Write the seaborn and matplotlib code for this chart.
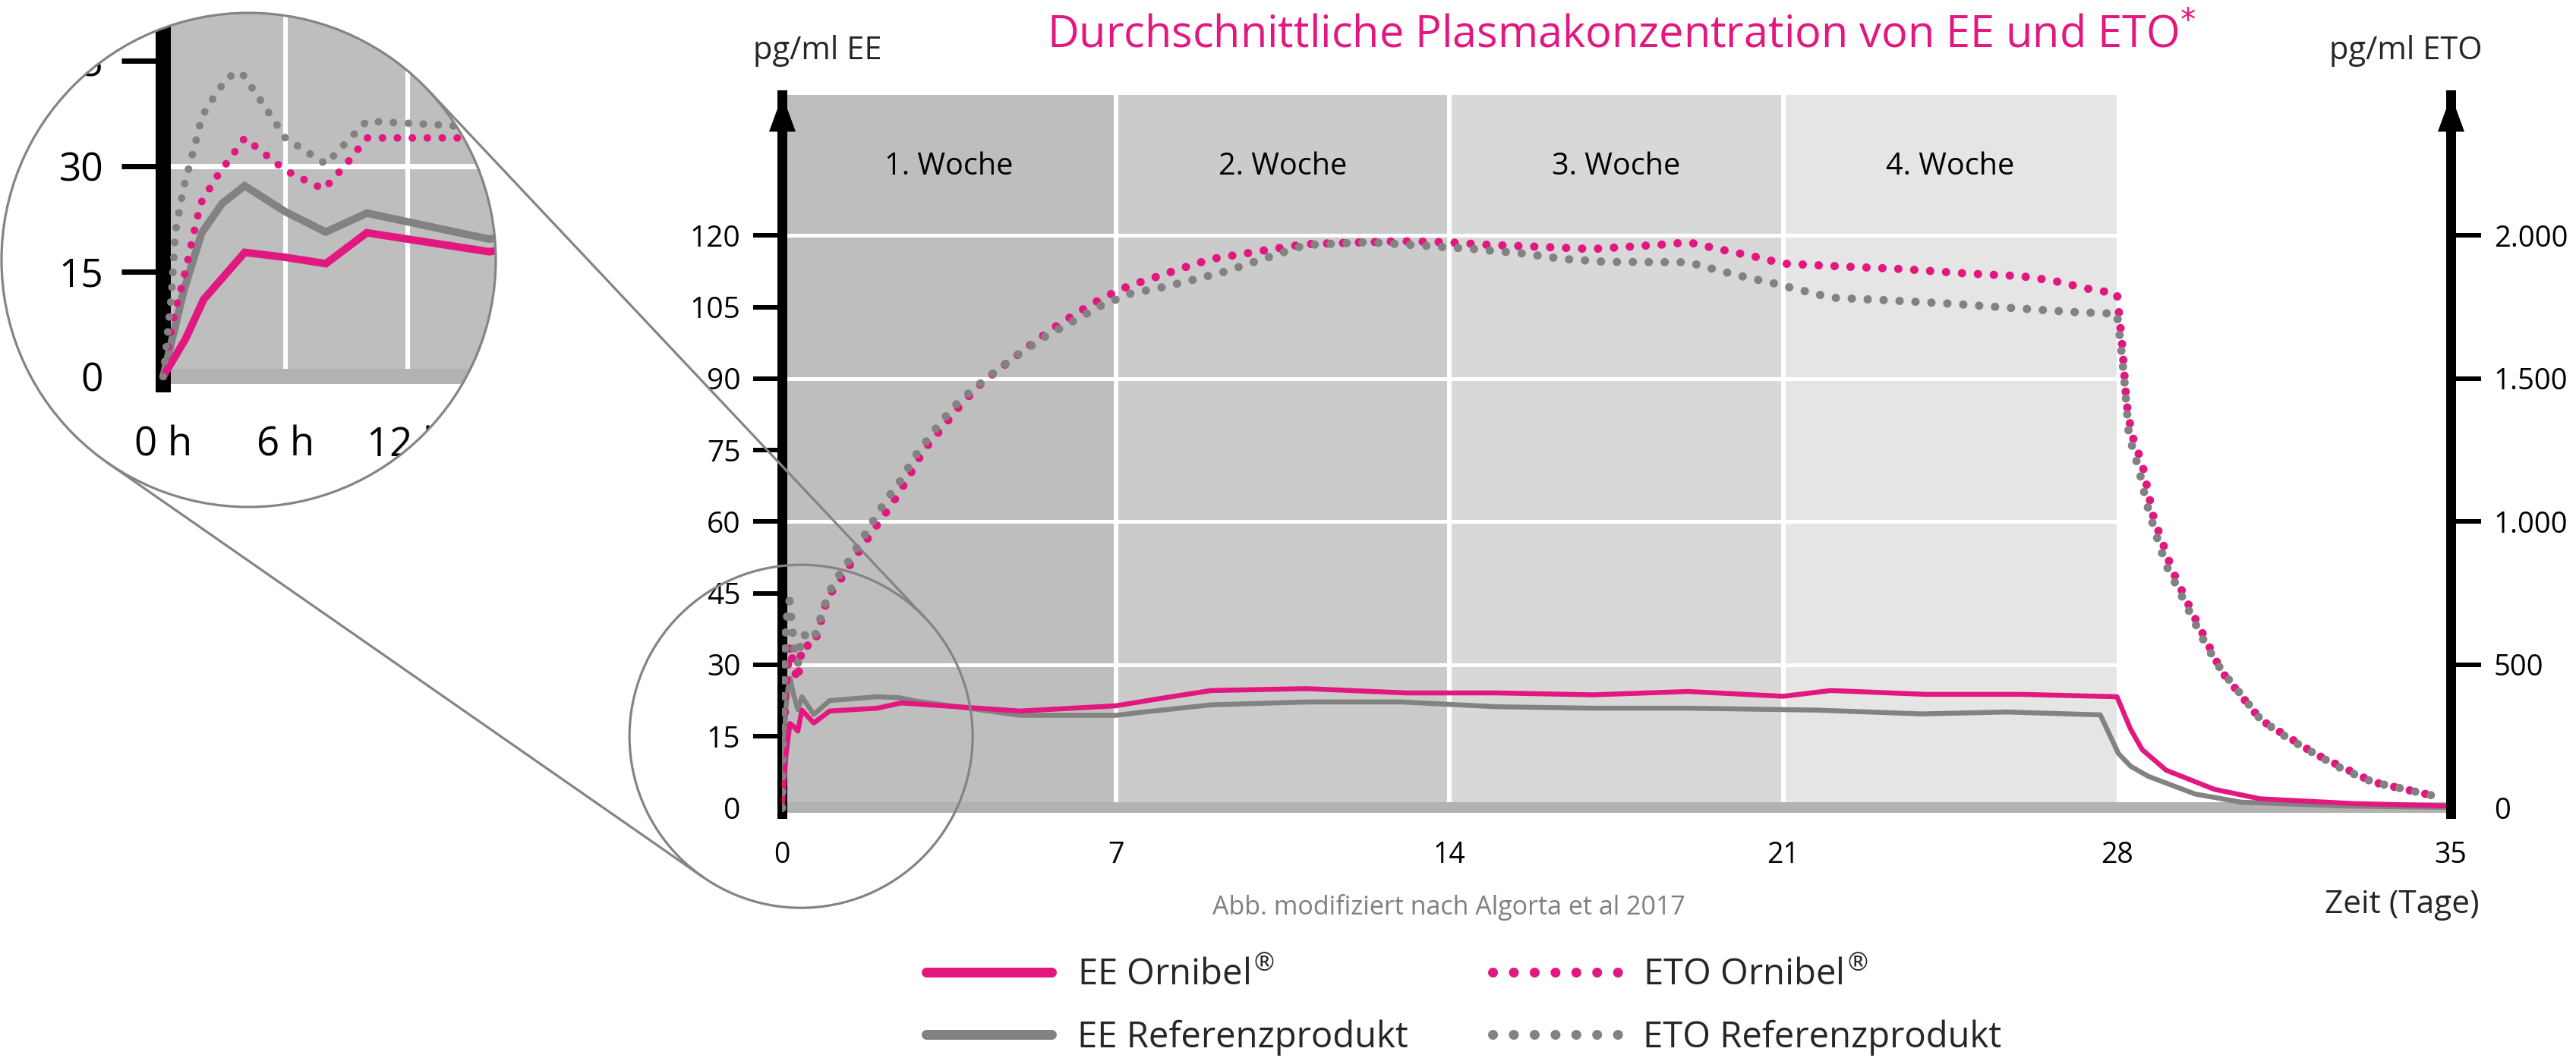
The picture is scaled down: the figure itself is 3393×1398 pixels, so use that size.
import numpy as np
import matplotlib
matplotlib.use("Agg")
import matplotlib.pyplot as plt
import seaborn as sns
from matplotlib.patches import Circle, PathPatch
from matplotlib.path import Path
from matplotlib.lines import Line2D
from matplotlib.transforms import IdentityTransform

# ---------------- data (time in days, EE in pg/ml, ETO in pg/ml) ----------------
ee_orn_days = [0, 0.046, 0.083, 0.167, 0.25, 0.333, 0.417, 0.5, 0.667, 1.0, 2.0, 2.5,
               5.0, 7.0, 8.1, 9.0, 11.0, 13.1, 15.0, 17.0, 19.0, 21.0, 22.0, 24.0, 26.0,
               28.0, 28.28, 28.53, 29.03, 30.04, 31.0, 32.96, 35.0]
ee_orn_pgml = [0, 5.4, 11.0, 17.7, 17.0, 16.1, 20.5, 19.6, 17.8, 20.3, 20.9, 22.0,
               20.3, 21.4, 23.2, 24.6, 25.0, 24.1, 24.1, 23.7, 24.4, 23.4, 24.6, 23.8, 23.8,
               23.3, 16.6, 12.2, 7.9, 3.9, 1.9, 0.9, 0.4]

ee_ref_days = [0, 0.042, 0.079, 0.121, 0.167, 0.25, 0.333, 0.417, 0.667, 1.0, 2.0, 2.45,
               2.8, 5.0, 7.0, 7.6, 9.0, 11.0, 13.0, 15.0, 17.0, 19.0, 21.7, 23.9, 25.7,
               27.65, 28.03, 28.29, 28.66, 29.64, 30.6, 32.75, 35.0]
ee_ref_pgml = [0, 12.2, 20.5, 24.7, 27.2, 23.5, 20.6, 23.3, 19.6, 22.5, 23.3, 23.1,
               22.4, 19.4, 19.4, 20.1, 21.6, 22.2, 22.2, 21.2, 20.9, 20.9, 20.5, 19.7, 20.1,
               19.5, 11.4, 8.7, 6.6, 2.9, 1.2, 0.4, 0.1]

eto_orn_days = [0, 0.0125, 0.025, 0.042, 0.0625, 0.077, 0.108, 0.146, 0.167, 0.221,
                0.25, 0.329, 0.375, 0.417, 0.667, 0.77, 0.96, 1.17, 1.35, 1.9,
                2.3, 2.65, 2.98, 3.38, 3.79, 4.22, 4.74, 5.25, 5.74, 6.22,
                6.74, 7.26, 7.84, 8.41, 9.0, 9.63, 10.3, 10.97, 12.3, 13.0,
                13.9, 14.87, 15.7, 17.0, 18.6, 19.0, 19.67, 20.36, 21.0, 22.25,
                23.5, 24.8, 26.0, 26.67, 27.36, 28.0, 28.1, 28.2, 28.31, 28.53,
                28.76, 29.16, 29.6, 30.2, 31.02, 32.16, 33.37, 34.7]
eto_orn_pgml = [0, 87, 158, 233, 340, 412, 472, 533, 567, 517,
                490, 445, 505, 567, 567, 625, 737, 783, 830, 967,
                1060, 1155, 1252, 1332, 1417, 1490, 1557, 1622, 1682, 1733,
                1783, 1823, 1855, 1887, 1918, 1935, 1953, 1970, 1977, 1980,
                1977, 1967, 1962, 1953, 1970, 1977, 1952, 1928, 1902, 1892,
                1883, 1868, 1858, 1842, 1815, 1797, 1635, 1415, 1305, 1202,
                1020, 830, 675, 475, 307, 188, 90, 40]

eto_ref_days = [0, 0.017, 0.025, 0.042, 0.065, 0.079, 0.096, 0.115, 0.133, 0.160,
                0.196, 0.233, 0.25, 0.333, 0.375, 0.417, 0.583, 0.667, 0.77, 0.88,
                1.0, 1.16, 1.34, 1.66, 2.14, 2.47, 2.81, 3.18, 3.58, 3.97,
                4.46, 4.98, 5.52, 6.1, 6.69, 7.32, 8.0, 8.66, 9.27, 9.85,
                10.4, 10.97, 12.3, 13.6, 14.5, 15.5, 16.4, 17.3, 19.0, 19.6,
                20.2, 20.8, 21.4, 22.0, 23.3, 24.5, 25.8, 27.05, 28.0, 28.08,
                28.17, 28.25, 28.46, 28.62, 28.81, 29.03, 29.33, 29.6, 29.87, 30.2,
                30.62, 31.02, 31.6, 32.16, 32.76, 33.37, 34.04, 34.7]
eto_ref_pgml = [0, 195, 343, 450, 550, 617, 650, 683, 712, 723,
                662, 598, 567, 505, 557, 607, 597, 588, 642, 700,
                757, 803, 847, 933, 1065, 1140, 1233, 1315, 1398, 1457,
                1523, 1588, 1647, 1700, 1755, 1798, 1820, 1847, 1873, 1905,
                1935, 1967, 1977, 1963, 1953, 1938, 1918, 1908, 1907, 1880,
                1855, 1833, 1808, 1783, 1773, 1762, 1747, 1733, 1727, 1617,
                1467, 1302, 1183, 1065, 960, 848, 750, 658, 568, 478,
                392, 307, 242, 188, 133, 90, 65, 40]

week_labels = ["1. Woche", "2. Woche", "3. Woche", "4. Woche"]
week_starts = [0, 7, 14, 21]
x_ticks = [0, 7, 14, 21, 28, 35]
ee_ticks = [0, 15, 30, 45, 60, 75, 90, 105, 120]
eto_ticks = [0, 500, 1000, 1500, 2000]
eto_tick_labels = ["0", "500", "1.000", "1.500", "2.000"]
grid_ee = [30, 60, 90, 120]
inset_x_ticks = [0, 0.25, 0.5]
inset_x_labels = ["0 h", "6 h", "12 h"]
inset_y_ticks = [0, 15, 30, 45]
legend_labels = ["EE Ornibel$^{®}$", "EE Referenzprodukt",
                 "ETO Ornibel$^{®}$", "ETO Referenzprodukt"]

# ---------------- style ----------------
PINK = "#E2177F"
GRAY = "#828282"
WEEK_COLORS = ["#BEBEBE", "#CBCBCB", "#D8D8D8", "#E5E5E5"]
BAR = "#B2B2B2"
W, H, DPI = 3393, 1398, 100
PX = 72 / DPI  # points per pixel

sns.set_theme(style="white")
plt.rcParams["font.family"] = ["Open Sans", "DejaVu Sans"]

fig = plt.figure(figsize=(W / DPI, H / DPI), dpi=DPI)

# ---------------- main axes ----------------
AX_L, AX_R, AX_T, AX_B = 1030, 3228, 125, 1072
ax = fig.add_axes([AX_L / W, 1 - AX_B / H, (AX_R - AX_L) / W, (AX_B - AX_T) / H])
Y_LO, Y_HI = -1.2, 149.5
X_LO, X_HI = 0, 35
R = 2000 / 120  # ETO axis units per EE axis unit
ax.set_xlim(X_LO, X_HI)
ax.set_ylim(Y_LO, Y_HI)
ax.patch.set_alpha(0)

y0frac = (0 - Y_LO) / (Y_HI - Y_LO)
for s, c in zip(week_starts, WEEK_COLORS):
    ax.axvspan(s, s + 7, ymin=y0frac, ymax=1, color=c, lw=0, zorder=0)
ax.hlines(grid_ee, 0, 28, colors="white", lw=5 * PX, zorder=0.5)
ax.vlines(week_starts[1:], 0, Y_HI, colors="white", lw=6 * PX, zorder=0.5)
ax.plot([X_LO, X_HI], [0, 0], color=BAR, lw=14 * PX, solid_capstyle="butt",
        zorder=0.8, clip_on=False)

for s, lab in zip(week_starts, week_labels):
    ax.text(s + 3.5, 132.8, lab, ha="center", va="baseline", fontsize=28.5, color="black")

line_kw = dict(estimator=None, sort=False, errorbar=None, legend=False)
sns.lineplot(x=ee_ref_days, y=ee_ref_pgml, ax=ax, color=GRAY, linewidth=6.5 * PX,
             solid_joinstyle="round", solid_capstyle="round", zorder=3, **line_kw)
sns.lineplot(x=ee_orn_days, y=ee_orn_pgml, ax=ax, color=PINK, linewidth=6.5 * PX,
             solid_joinstyle="round", solid_capstyle="round", zorder=3.1, **line_kw)

ax2 = ax.twinx()
ax2.set_ylim(Y_LO * R, Y_HI * R)
sns.lineplot(x=eto_orn_days, y=eto_orn_pgml, ax=ax2, color=PINK, linewidth=11 * PX,
             linestyle=(0, (0.01, 1.9)), dash_capstyle="round", zorder=3, **line_kw)
sns.lineplot(x=eto_ref_days, y=eto_ref_pgml, ax=ax2, color=GRAY, linewidth=11 * PX,
             linestyle=(0, (0.01, 1.9)), dash_capstyle="round", zorder=3.1, **line_kw)

ax.set_xlim(X_LO, X_HI)
ax.set_ylim(Y_LO, Y_HI)
ax2.set_ylim(Y_LO * R, Y_HI * R)
ax2.set_xlim(X_LO, X_HI)

for a in (ax, ax2):
    a.set_xlabel("")
    a.set_ylabel("")
    for sp in a.spines.values():
        sp.set_visible(False)
ax.spines["left"].set_visible(True)
ax.spines["left"].set_color("black")
ax.spines["left"].set_linewidth(13 * PX)
ax2.spines["right"].set_visible(True)
ax2.spines["right"].set_color("black")
ax2.spines["right"].set_linewidth(13 * PX)

ax.set_xticks(x_ticks)
ax.set_xticklabels([str(v) for v in x_ticks])
ax.tick_params(axis="x", bottom=True, length=0, pad=26, labelsize=27, labelcolor="black")
ax.set_yticks(ee_ticks)
ax.set_yticklabels([str(v) for v in ee_ticks])
ax.tick_params(axis="y", left=True, right=False, length=38 * PX, width=6 * PX, pad=12,
               labelsize=28, color="black", labelcolor="black", direction="out")
ax.yaxis.get_major_ticks()[0].tick1line.set_visible(False)

ax2.set_yticks(eto_ticks)
ax2.set_yticklabels(eto_tick_labels)
ax2.tick_params(axis="y", right=True, left=False, length=40 * PX, width=6 * PX, pad=12,
                labelsize=27.5, color="black", labelcolor="black", direction="out")
ax2.yaxis.get_major_ticks()[0].tick2line.set_visible(False)
ax2.tick_params(axis="x", bottom=False, labelbottom=False)

arrow = Path([(0, 0), (-17.5, -48), (17.5, -48), (0, 0)],
             [Path.MOVETO, Path.LINETO, Path.LINETO, Path.CLOSEPOLY])
for xa in (X_LO, X_HI):
    ax2.plot([xa], [Y_HI * R], marker=arrow, markersize=96 * PX, color="black",
             markeredgewidth=0, clip_on=False, zorder=6)

# ---------------- texts ----------------
fig.text(2136 / W, 1 - 62 / H,
         "Durchschnittliche Plasmakonzentration von EE und ETO$^{*}$",
         ha="center", va="baseline", fontsize=41.5, color=PINK)
fig.text(992 / W, 1 - 78 / H, "pg/ml EE", ha="left", va="baseline", fontsize=30)
fig.text(3269 / W, 1 - 78 / H, "pg/ml ETO", ha="right", va="baseline", fontsize=30)
fig.text(1908 / W, 1 - 1205 / H, "Abb. modifiziert nach Algorta et al 2017",
         ha="center", va="baseline", fontsize=24.5, color="#7F7F7F")
fig.text(3266 / W, 1 - 1203 / H, "Zeit (Tage)", ha="right", va="baseline", fontsize=30.5)

# ---------------- legend ----------------
handles = [
    Line2D([], [], color=PINK, lw=13 * PX, solid_capstyle="round"),
    Line2D([], [], color=GRAY, lw=13 * PX, solid_capstyle="round"),
    Line2D([], [], color=PINK, lw=13 * PX, linestyle=(0, (0.01, 2.1)), dash_capstyle="round"),
    Line2D([], [], color=GRAY, lw=13 * PX, linestyle=(0, (0.01, 2.1)), dash_capstyle="round"),
]
fig.legend(handles, legend_labels, ncol=2, loc="upper left",
           bbox_to_anchor=(1220 / W, 1 - 1261 / H), frameon=False, fontsize=34,
           handlelength=3.5, handletextpad=0.71, columnspacing=2.35,
           labelspacing=0.74, borderpad=0, borderaxespad=0)

# ---------------- inset (magnifier) ----------------
IN_L, IN_T, IN_S = 2, 17, 651
ax_in = fig.add_axes([IN_L / W, 1 - (IN_T + IN_S) / H, IN_S / W, IN_S / H])
IX_LO, IX_HI = -0.331, 0.681
IY_LO, IY_HI = -18.6, 51.85
ax_in.set_xlim(IX_LO, IX_HI)
ax_in.set_ylim(IY_LO, IY_HI)
iy0 = (0 - IY_LO) / (IY_HI - IY_LO)
ax_in.axvspan(0, IX_HI, ymin=iy0, ymax=1, color=WEEK_COLORS[0], lw=0, zorder=0)
ax_in.vlines(inset_x_ticks[1:], 0, IY_HI, colors="white", lw=6 * PX, zorder=0.5)
ax_in.hlines([30], 0, IX_HI, colors="white", lw=7 * PX, zorder=0.5)
ax_in.plot([0, IX_HI], [0, 0], color=BAR, lw=20 * PX, solid_capstyle="butt", zorder=0.8)

sns.lineplot(x=ee_ref_days, y=ee_ref_pgml, ax=ax_in, color=GRAY, linewidth=10 * PX,
             solid_joinstyle="miter", zorder=3, **line_kw)
sns.lineplot(x=ee_orn_days, y=ee_orn_pgml, ax=ax_in, color=PINK, linewidth=10 * PX,
             solid_joinstyle="miter", zorder=3.1, **line_kw)
ax_in2 = ax_in.twinx()
sns.lineplot(x=eto_orn_days, y=eto_orn_pgml, ax=ax_in2, color=PINK, linewidth=10 * PX,
             linestyle=(0, (0.01, 1.96)), dash_capstyle="round", zorder=3, **line_kw)
sns.lineplot(x=eto_ref_days, y=eto_ref_pgml, ax=ax_in2, color=GRAY, linewidth=10 * PX,
             linestyle=(0, (0.01, 1.96)), dash_capstyle="round", zorder=3.1, **line_kw)
ax_in.set_xlim(IX_LO, IX_HI)
ax_in.set_ylim(IY_LO, IY_HI)
ax_in2.set_ylim(IY_LO * R, IY_HI * R)
ax_in2.axis("off")

for sp in ax_in.spines.values():
    sp.set_visible(False)
ax_in.spines["left"].set_visible(True)
ax_in.spines["left"].set_position(("data", 0))
ax_in.spines["left"].set_bounds(-1.2, IY_HI)
ax_in.spines["left"].set_color("black")
ax_in.spines["left"].set_linewidth(20 * PX)
ax_in.spines["bottom"].set_position(("data", 0))
ax_in.set_xlabel("")
ax_in.set_ylabel("")
ax_in.set_xticks(inset_x_ticks)
ax_in.set_xticklabels(inset_x_labels)
ax_in.tick_params(axis="x", bottom=True, length=0, pad=46, labelsize=38, labelcolor="black")
ax_in.set_yticks(inset_y_ticks)
ax_in.set_yticklabels([str(v) for v in inset_y_ticks])
ax_in.tick_params(axis="y", left=True, length=55 * PX, width=7 * PX, pad=17,
                  labelsize=37, color="black", labelcolor="black", direction="out")
ax_in.yaxis.get_major_ticks()[0].tick1line.set_visible(False)

# white mask outside the magnifier circle
rect = Path([(-0.06, -0.06), (-0.06, 1.06), (1.06, 1.06), (1.06, -0.06), (-0.06, -0.06)],
            [Path.MOVETO, Path.LINETO, Path.LINETO, Path.LINETO, Path.CLOSEPOLY])
hole = Path.circle(center=(0.5, 0.5), radius=0.5)
mask = PathPatch(Path.make_compound_path(rect, hole), transform=ax_in.transAxes,
                 facecolor="white", edgecolor="none", zorder=10)
fig.add_artist(mask)

RING = "#848484"
RING_LW = 3.2 * PX
fig.add_artist(Circle((0.5, 0.5), 0.5, transform=ax_in.transAxes, fill=False,
                      edgecolor=RING, lw=RING_LW, zorder=12))

# small circle on the main chart + tangent connector lines
c1 = np.array(ax_in.transAxes.transform((0.5, 0.5)))
r1 = IN_S / 2
c2 = np.array(ax.transData.transform((0.4, 15.0)))
r2 = 226
fig.add_artist(Circle(tuple(c2), r2, transform=IdentityTransform(), fill=False,
                      edgecolor=RING, lw=RING_LW, zorder=12))
d = c2 - c1
L = np.hypot(*d)
u = d / L
perp = np.array([-u[1], u[0]])
k = (r2 - r1) / L
for sgn in (1, -1):
    n = k * u + sgn * np.sqrt(1 - k * k) * perp
    t1 = c1 - r1 * n
    t2 = c2 - r2 * n
    fig.add_artist(Line2D([t1[0], t2[0]], [t1[1], t2[1]], transform=IdentityTransform(),
                          color=RING, lw=RING_LW, zorder=12))

fig.savefig("out.png", dpi=DPI)
